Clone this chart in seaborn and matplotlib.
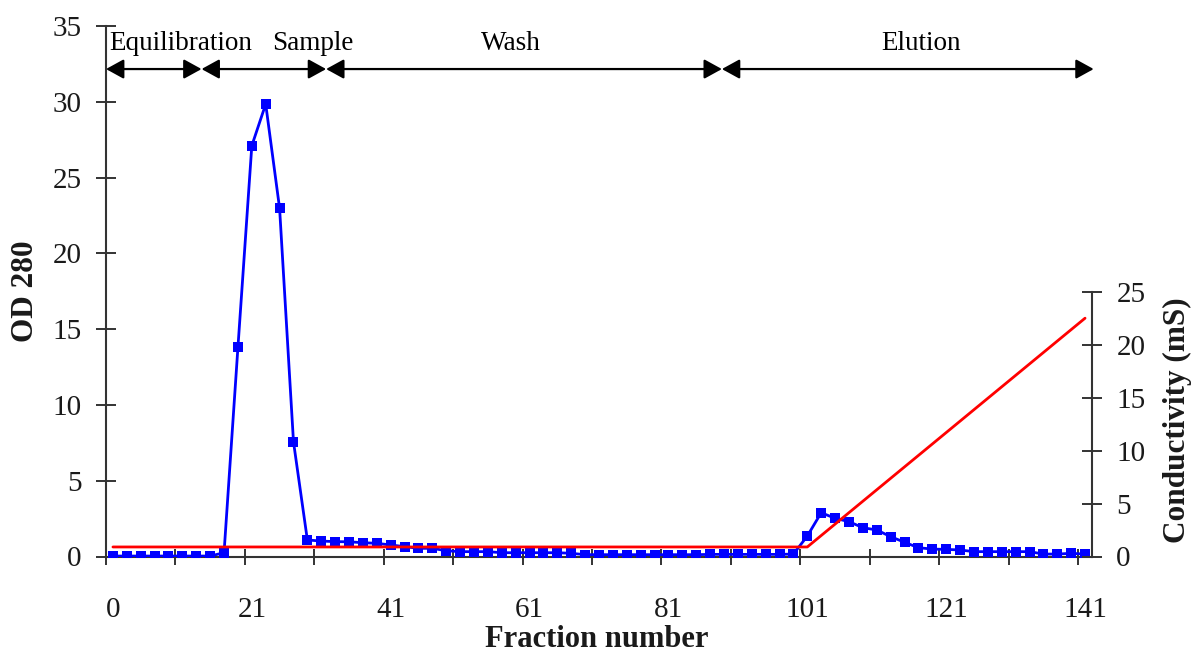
import matplotlib
matplotlib.use("Agg")
import matplotlib.pyplot as plt
import seaborn as sns
import numpy as np

# ---------------- data ----------------
tick_labels = ["0", "21", "41", "61", "81", "101", "121", "141"]

od280 = [0.03, 0.03, 0.03, 0.03, 0.03, 0.03, 0.03, 0.03, 0.25, 13.8,
         27.1, 29.85, 22.97, 7.57, 1.09, 1.02, 0.98, 0.97, 0.91, 0.87,
         0.76, 0.65, 0.54, 0.54, 0.38, 0.32, 0.32, 0.32, 0.25, 0.25,
         0.25, 0.25, 0.25, 0.21, 0.12, 0.12, 0.12, 0.12, 0.12, 0.12,
         0.12, 0.12, 0.12, 0.14, 0.14, 0.14, 0.14, 0.14, 0.14, 0.16,
         1.35, 2.89, 2.52, 2.3, 1.9, 1.75, 1.31, 0.94, 0.58, 0.49,
         0.47, 0.43, 0.32, 0.32, 0.32, 0.32, 0.32, 0.16, 0.16, 0.21,
         0.16]

conductivity = [0.9, 0.9, 0.9, 0.9, 0.9, 0.9, 0.9, 0.9, 0.9, 0.9,
                0.9, 0.9, 0.9, 0.9, 0.9, 0.9, 0.9, 0.9, 0.9, 0.9,
                0.9, 0.9, 0.9, 0.9, 0.9, 0.9, 0.9, 0.9, 0.9, 0.9,
                0.9, 0.9, 0.9, 0.9, 0.9, 0.9, 0.9, 0.9, 0.9, 0.9,
                0.9, 0.9, 0.9, 0.9, 0.9, 0.9, 0.9, 0.9, 0.9, 0.9,
                0.9, 1.98, 3.06, 4.14, 5.22, 6.3, 7.38, 8.46, 9.54, 10.62,
                11.7, 12.78, 13.86, 14.94, 16.02, 17.1, 18.18, 19.26, 20.34, 21.42,
                22.5]

phases = ["Equilibration", "Sample", "Wash", "Elution"]

# ---------------- style ----------------
sns.set_style("white")
plt.rcParams["font.family"] = ["Liberation Serif", "DejaVu Serif"]

W, H = 1192, 655
fig = plt.figure(figsize=(W / 100, H / 100), dpi=100)
fig.patch.set_facecolor("white")

left_px, right_px, top_px, bot_px = 106, 1092, 26, 556.5
ax = fig.add_axes([left_px / W, 1 - bot_px / H,
                   (right_px - left_px) / W, (bot_px - top_px) / H])

x = np.arange(len(od280))
spine_c = "#333333"
text_c = "#1a1a1a"

sns.lineplot(x=x, y=od280, ax=ax, color="#0000FF", linewidth=2.0,
             marker="s", markersize=6.5, markeredgewidth=0, zorder=3)

ax.set_xlim(-0.5, len(od280) - 0.5)
ax.set_ylim(0, 35)
ax.set_yticks(np.arange(0, 36, 5))
ax.set_xticks(np.arange(0, len(od280), 10))
ax.set_xticklabels(tick_labels)
ax.set_xticks(np.arange(-0.5, len(od280) - 1, 5), minor=True)
ax.tick_params(axis="x", which="major", length=0, pad=29,
               labelsize=21, labelcolor=text_c)
ax.tick_params(axis="x", which="minor", direction="inout", length=12,
               width=1.4, color=spine_c, bottom=True)
ax.tick_params(axis="y", which="major", direction="inout", length=15,
               width=1.4, color=spine_c, pad=10, labelsize=21,
               labelcolor=text_c, left=True)
for s in ["top", "right"]:
    ax.spines[s].set_visible(False)
for s in ["left", "bottom"]:
    ax.spines[s].set_color(spine_c)
    ax.spines[s].set_linewidth(1.5)
ax.set_xlabel("")
ax.set_ylabel("")

# secondary axis (conductivity)
ax2 = ax.twinx()
sns.lineplot(x=x, y=conductivity, ax=ax2, color="#FF0000", linewidth=2.0)
px_per_unit = (bot_px - 291.7) / 25
ax2.set_ylim(0, (bot_px - top_px) / px_per_unit)
ax2.set_yticks(np.arange(0, 26, 5))
for s in ["top", "left", "bottom"]:
    ax2.spines[s].set_visible(False)
ax2.spines["right"].set_bounds(0, 25)
ax2.spines["right"].set_color(spine_c)
ax2.spines["right"].set_linewidth(1.5)
ax2.tick_params(axis="y", direction="inout", length=15, width=1.4,
                color=spine_c, pad=10, labelsize=21, labelcolor=text_c,
                right=True)
ax2.set_ylabel("")
ax2.set_xlim(-0.5, len(od280) - 0.5)
ax2.grid(False)
ax.grid(False)

# phase arrows
bounds = [(-0.5, 6.38), (6.38, 15.35), (15.35, 43.85), (43.85, 70.62)]
text_x = [4.9, 14.4, 28.66, 58.2]
arrow_y = 32.16
for (a, b) in bounds:
    ax.annotate("", xy=(b, arrow_y), xytext=(a, arrow_y),
                arrowprops=dict(arrowstyle="<|-|>,head_length=0.4,head_width=0.22",
                                mutation_scale=27, lw=1.6, color="black",
                                shrinkA=0, shrinkB=0),
                annotation_clip=False)
for name, tx in zip(phases, text_x):
    ax.text(tx, 33.4, name, ha="center", va="baseline", fontsize=19.5,
            color="black", clip_on=False)

# axis titles
fig.text(33 / W, 1 - 291.5 / H, "OD 280", rotation=90, rotation_mode="anchor",
         ha="center", va="baseline", fontsize=22.5, fontweight="bold", color=text_c)
fig.text(597 / W, 1 - 647 / H, "Fraction number", ha="center", va="baseline",
         fontsize=22, fontweight="bold", color=text_c)
fig.text(1185 / W, 1 - 420 / H, "Conductivity (mS)", rotation=90,
         rotation_mode="anchor", ha="center", va="baseline", fontsize=22.5,
         fontweight="bold", color=text_c)

fig.savefig("out.png", dpi=100, facecolor="white")
